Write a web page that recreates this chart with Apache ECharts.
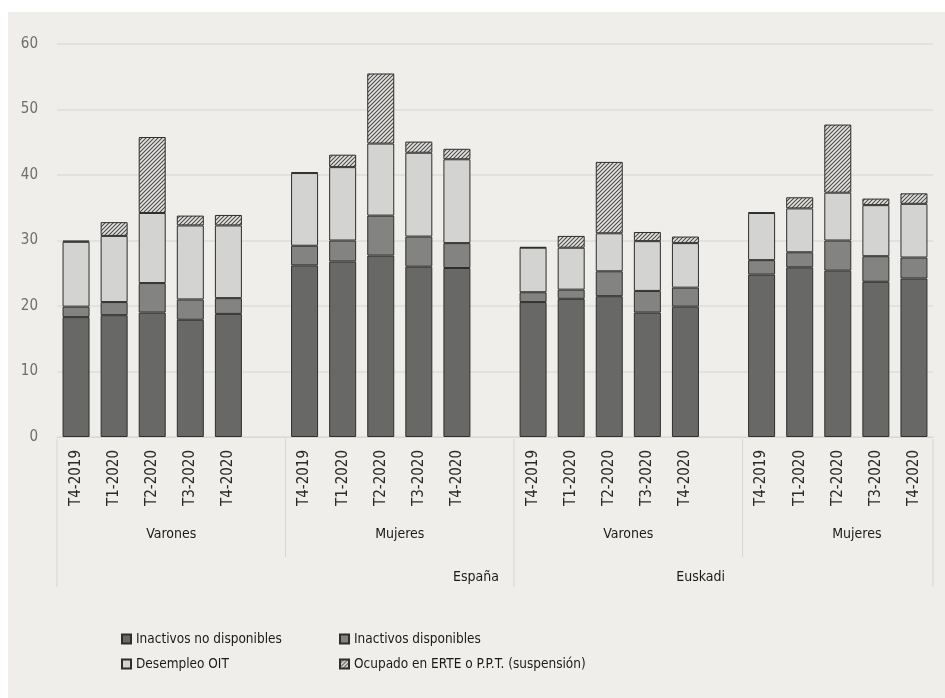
<!DOCTYPE html>
<html>
<head>
<meta charset="utf-8">
<script src="https://cdn.jsdelivr.net/npm/echarts@6/dist/echarts.min.js"></script>
<style>
  html, body { margin: 0; padding: 0; background: #ffffff; }
  #chart { position: absolute; left: 8px; top: 12px; width: 937px; height: 686px; background: #efeeeb; }
</style>
</head>
<body>
<div id="chart"></div>
<script>
// Quarters shown inside every sex / region group
const quarters = ['T4-2019', 'T1-2020', 'T2-2020', 'T3-2020', 'T4-2020'];
// Group labels (second and third level of the category axis)
const sexLabels = ['Varones', 'Mujeres', 'Varones', 'Mujeres'];
const regionLabels = ['España', 'Euskadi'];

// Values in %, ordered España-Varones, España-Mujeres, Euskadi-Varones, Euskadi-Mujeres
const inactivosNoDisponibles = [18.3, 18.6, 19.0, 17.9, 18.8,  26.2, 26.8, 27.7, 26.0, 25.8,  20.6, 21.1, 21.5, 19.0, 19.9,  24.8, 25.9, 25.4, 23.7, 24.2];
const inactivosDisponibles   = [1.6, 2.0, 4.5, 3.1, 2.4,  3.0, 3.2, 6.1, 4.6, 3.8,  1.5, 1.4, 3.8, 3.3, 2.9,  2.2, 2.3, 4.6, 3.9, 3.2];
const desempleoOIT           = [9.9, 10.1, 10.7, 11.3, 11.1,  11.1, 11.2, 11.0, 12.8, 12.8,  6.8, 6.4, 5.8, 7.6, 6.8,  7.2, 6.7, 7.3, 7.8, 8.2];
const ocupadoERTE            = [0.2, 2.1, 11.6, 1.5, 1.6,  0.1, 1.9, 10.7, 1.7, 1.6,  0.1, 1.8, 10.9, 1.4, 1.0,  0.1, 1.7, 10.4, 1.0, 1.6];

// Y axis ticks
const yTicks = [0, 10, 20, 30, 40, 50, 60];

const FONT = "'Liberation Sans Narrow', 'DejaVu Sans Condensed', 'Noto Sans', sans-serif";

// Build the category axis with an empty slot between groups
const categories = [];
const slotOfValue = [];
sexLabels.forEach((s, g) => {
  quarters.forEach(q => {
    slotOfValue.push(categories.length);
    categories.push(q);
  });
  if (g < sexLabels.length - 1) categories.push('');
});
function spread(values) {
  const out = categories.map(() => null);
  values.forEach((v, i) => { out[slotOfValue[i]] = v; });
  return out;
}

// Diagonal hatch used for the ERTE segment
function hatchPattern() {
  const p = 4;
  const c = document.createElement('canvas');
  c.width = p; c.height = p;
  const ctx = c.getContext('2d');
  ctx.fillStyle = '#e4e3e0';
  ctx.fillRect(0, 0, p, p);
  ctx.strokeStyle = '#4a4a4a';
  ctx.lineWidth = 1.1;
  ctx.beginPath();
  ctx.moveTo(0, p); ctx.lineTo(p, 0);
  ctx.moveTo(-1, 1); ctx.lineTo(1, -1);
  ctx.moveTo(p - 1, p + 1); ctx.lineTo(p + 1, p - 1);
  ctx.stroke();
  return { image: c, repeat: 'repeat' };
}

const chart = echarts.init(document.getElementById('chart'), null, { renderer: 'canvas' });

function barSeries(name, values, color) {
  return {
    name: name,
    type: 'bar',
    stack: 'total',
    barWidth: 27,
    data: spread(values),
    itemStyle: { color: color, borderColor: '#2e2e2e', borderWidth: 1 },
    emphasis: { disabled: true }
  };
}

const legendText = { fontFamily: FONT, fontSize: 13.5, color: '#1a1a1a' };

chart.setOption({
  animation: false,
  backgroundColor: '#efeeeb',
  grid: { left: 49, right: 12, top: 32, bottom: 261 },
  legend: [
    {
      left: 108, top: 615, orient: 'vertical', itemGap: 11,
      itemWidth: 9, itemHeight: 9, icon: 'rect',
      data: ['Inactivos no disponibles', 'Desempleo OIT'],
      textStyle: legendText, selectedMode: false
    },
    {
      left: 326, top: 615, orient: 'vertical', itemGap: 11,
      itemWidth: 9, itemHeight: 9, icon: 'rect',
      data: ['Inactivos disponibles', 'Ocupado en ERTE o P.P.T. (suspensión)'],
      textStyle: legendText, selectedMode: false
    }
  ],
  xAxis: {
    type: 'category',
    data: categories,
    axisLine: { show: true, lineStyle: { color: '#d9d8d5', width: 1 } },
    axisTick: { show: false },
    axisLabel: {
      rotate: 90, interval: 0, margin: 13,
      fontFamily: FONT, fontSize: 15, color: '#2a2a2a'
    }
  },
  yAxis: {
    type: 'value',
    min: yTicks[0], max: yTicks[yTicks.length - 1], interval: 10,
    axisLine: { show: false },
    axisTick: { show: false },
    splitLine: { lineStyle: { color: '#dddcd9', width: 1.5 } },
    axisLabel: { margin: 19, fontFamily: FONT, fontSize: 15, color: '#6e6e6e' }
  },
  series: [
    barSeries('Inactivos no disponibles', inactivosNoDisponibles, '#686866'),
    barSeries('Inactivos disponibles', inactivosDisponibles, '#838381'),
    barSeries('Desempleo OIT', desempleoOIT, '#d3d3d1'),
    barSeries('Ocupado en ERTE o P.P.T. (suspensión)', ocupadoERTE, hatchPattern())
  ]
});

// Multi-level category labels and separators, placed from the axis scale
function drawGroupLevels() {
  const x0 = chart.convertToPixel({ xAxisIndex: 0 }, 0);
  const x1 = chart.convertToPixel({ xAxisIndex: 0 }, 1);
  const w = x1 - x0;
  const edge = x0 - w / 2;               // left border of the first slot
  const bx = b => edge + b * w;          // x of slot boundary b
  const yAxis0 = chart.convertToPixel({ yAxisIndex: 0 }, 0);
  const lineTop = yAxis0 + 2;
  const sexBottom = yAxis0 + 120;
  const regionBottom = yAxis0 + 150;
  const sepColor = '#d6d5d2';
  const elements = [];
  const groupSize = quarters.length + 1;

  // separators: outer edges and region border run the full depth
  const fullLines = [0, categories.length, 2 * groupSize];
  fullLines.forEach(b => elements.push({
    type: 'line', silent: true,
    shape: { x1: bx(b), y1: lineTop, x2: bx(b), y2: regionBottom },
    style: { stroke: sepColor, lineWidth: 1 }
  }));
  [groupSize, 3 * groupSize].forEach(b => elements.push({
    type: 'line', silent: true,
    shape: { x1: bx(b), y1: lineTop, x2: bx(b), y2: sexBottom },
    style: { stroke: sepColor, lineWidth: 1 }
  }));

  sexLabels.forEach((s, g) => elements.push({
    type: 'text', silent: true,
    x: bx(g * groupSize + groupSize / 2), y: yAxis0 + 97,
    style: { text: s, fontFamily: FONT, fontSize: 14, fill: '#1a1a1a', align: 'center', verticalAlign: 'middle' }
  }));
  const regionCenters = [11, 16.9];
  regionLabels.forEach((r, i) => elements.push({
    type: 'text', silent: true,
    x: bx(regionCenters[i]), y: yAxis0 + 140,
    style: { text: r, fontFamily: FONT, fontSize: 14, fill: '#1a1a1a', align: 'center', verticalAlign: 'middle' }
  }));

  chart.setOption({ graphic: { elements: elements } });
}
drawGroupLevels();
</script>
</body>
</html>
